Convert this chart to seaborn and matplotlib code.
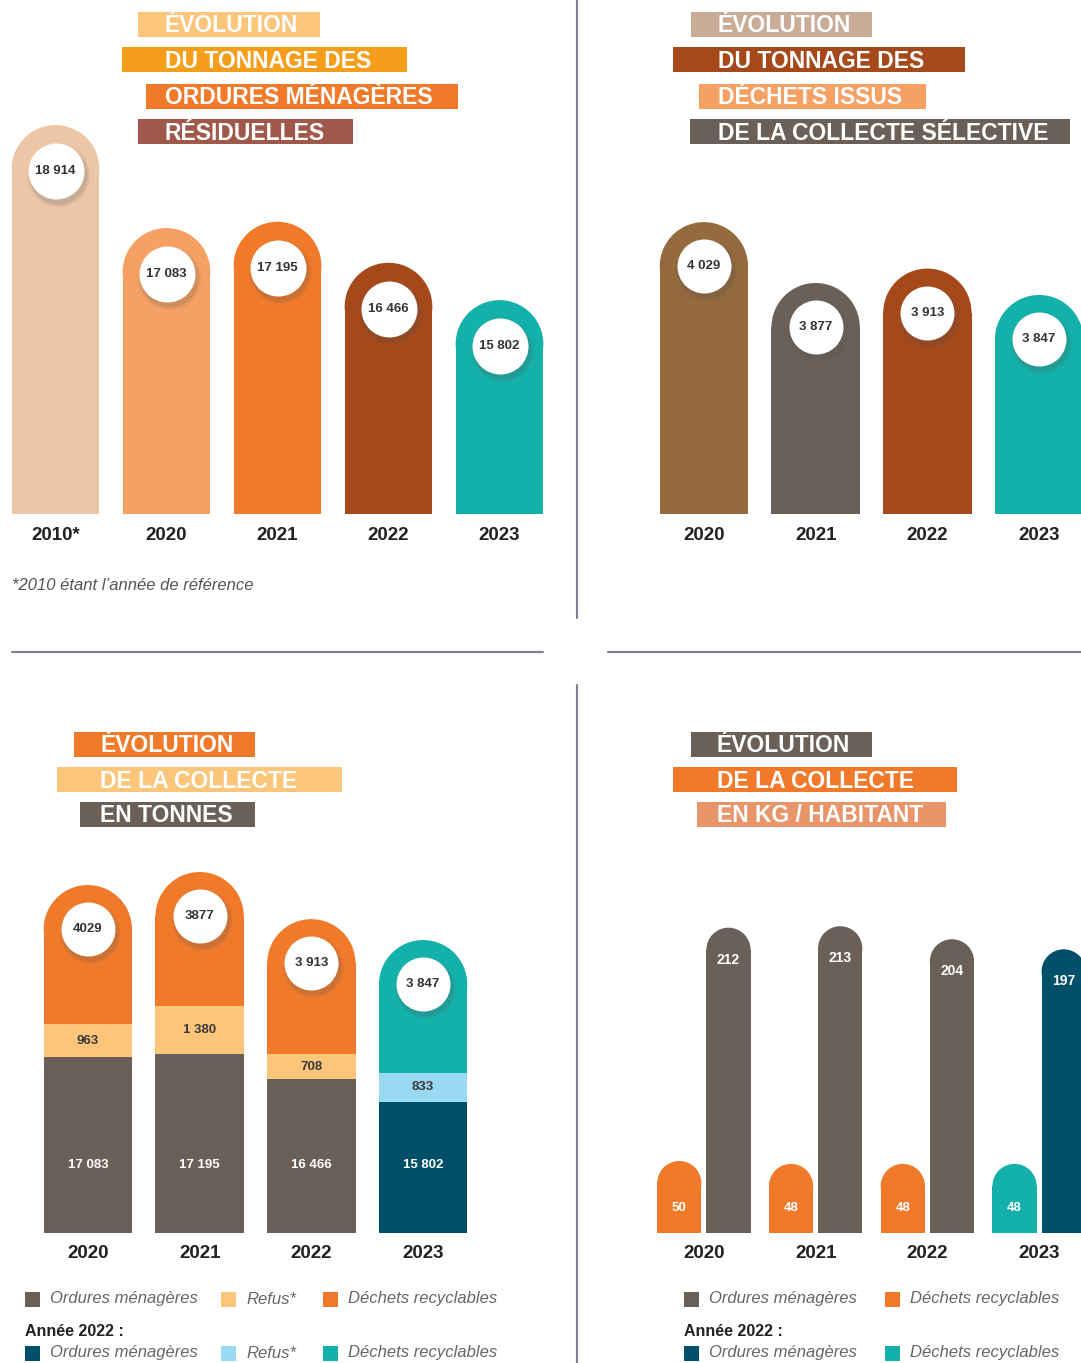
import numpy as np
import pandas as pd
import matplotlib
matplotlib.use("Agg")
import matplotlib.pyplot as plt
import seaborn as sns
from matplotlib.patches import Ellipse, Rectangle
from matplotlib.lines import Line2D
from matplotlib import transforms

# ---------------- data ----------------
omr_years = ["2010*", "2020", "2021", "2022", "2023"]
omr_tonnes = [18914, 17083, 17195, 16466, 15802]

cs_years = ["2020", "2021", "2022", "2023"]
cs_tonnes = [4029, 3877, 3913, 3847]

col_years = ["2020", "2021", "2022", "2023"]
col_om = [17083, 17195, 16466, 15802]
col_refus = [963, 1380, 708, 833]
col_recy = [4029, 3877, 3913, 3847]
col_recy_labels = ["4029", "3877", "3 913", "3 847"]

hab_years = ["2020", "2021", "2022", "2023"]
hab_om = [212, 213, 204, 197]
hab_recy = [50, 48, 48, 48]

# ---------------- colours ----------------
BROWN_GREY = "#6b6058"
ORANGE = "#f07a2a"
LIGHT_ORANGE = "#fbc57a"
AMBER = "#f59e1c"
TEAL = "#14b1ab"
NAVY = "#015069"
SKY = "#9ad9f2"
RUST = "#a5491a"
PEACH = "#edc6a8"
APRICOT = "#f6a063"
OCHRE = "#946a3e"
BRICK = "#a0584a"
TAN = "#c8ac98"
SALMON = "#e8956a"
RULE = "#7e8293"

sns.set_theme(style="white")
plt.rcParams["font.family"] = ["Liberation Sans", "DejaVu Sans"]

W, H = 1081, 1363
fig = plt.figure(figsize=(W / 100, H / 100), dpi=100)
fig.patch.set_facecolor("white")


def ax_px(left, top, width, height):
    ax = fig.add_axes([left / W, 1 - (top + height) / H, width / W, height / H])
    ax.set_facecolor("none")
    return ax


def fx(x):
    return x / W


def fy(y):
    return 1 - y / H


def round_cap(ax, patch):
    """Replace the flat top of a bar with a half-disc (round on screen)."""
    x0, w = patch.get_x(), patch.get_width()
    y0 = patch.get_y()
    top = y0 + patch.get_height()
    xr, yr = ax.get_xlim(), ax.get_ylim()
    px_x = ax.bbox.width / (xr[1] - xr[0])
    px_y = ax.bbox.height / (yr[1] - yr[0])
    r_y = (w * px_x / 2) / px_y
    patch.set_height(top - r_y - y0)
    cap = Ellipse((x0 + w / 2, top - r_y), w, 2 * r_y,
                  facecolor=patch.get_facecolor(), edgecolor="none",
                  zorder=patch.get_zorder())
    ax.add_patch(cap)


def badge(ax, x, y, text, drop_px, diam_px, fs=9.5):
    """White disc with a soft shadow, hanging drop_px below the bar top."""
    tr = transforms.offset_copy(ax.transData, fig=fig, x=0, y=-drop_px, units="dots")
    d_pt = diam_px * 0.72
    for grow, alpha in [(8, 0.05), (5, 0.08), (2, 0.12)]:
        sh = transforms.offset_copy(ax.transData, fig=fig, x=2, y=-drop_px - 4, units="dots")
        ax.scatter([x], [y], s=(d_pt + grow * 0.72) ** 2, color="#555555", alpha=alpha,
                   linewidths=0, transform=sh, zorder=4)
    ax.scatter([x], [y], s=d_pt ** 2, color="white", linewidths=0, transform=tr, zorder=5)
    ax.text(x, y, text, transform=tr, ha="center", va="center", fontsize=fs,
            fontweight="bold", color="#333333", zorder=6)


def style_axis(ax):
    sns.despine(ax=ax, left=True, bottom=True)
    ax.set_yticks([])
    ax.set_xlabel("")
    ax.set_ylabel("")
    ax.tick_params(axis="x", length=0, pad=9, labelsize=13.5, colors="#222222")
    for lbl in ax.get_xticklabels():
        lbl.set_fontweight("bold")


def fr(v):
    return f"{v:,}".replace(",", " ")


def tag(text, left, top, right, text_left, color, fs=16.5):
    fig.add_artist(Rectangle((fx(left), fy(top + 25)), (right - left) / W, 25 / H,
                             transform=fig.transFigure, facecolor=color,
                             edgecolor="none"))
    fig.text(fx(text_left), fy(top + 14), text, color="white", fontweight="bold",
             fontsize=fs, ha="left", va="center")


BAR_KW = dict(linewidth=0, errorbar=None, legend=False, saturation=1)

# ================= panel 1 : OMR =================
ax1 = ax_px(0, 100, 555, 414)
omr_df = pd.DataFrame({"year": omr_years, "t": omr_tonnes})
sns.barplot(data=omr_df, x="year", y="t", hue="year",
            palette=[PEACH, APRICOT, ORANGE, RUST, TEAL], width=0.79,
            ax=ax1, **BAR_KW)
ax1.set_xlim(-0.5, 4.5)
ax1.set_ylim(12000, 19360)
for p, v in zip(list(ax1.patches), omr_tonnes):
    round_cap(ax1, p)
    badge(ax1, p.get_x() + p.get_width() / 2, v, fr(v), 46, 56)
style_axis(ax1)

fig.text(fx(12), fy(585), "*2010 étant l’année de référence", fontsize=12,
         style="italic", color="#555555", ha="left", va="center")

tag("ÉVOLUTION", 138, 12, 320, 165, LIGHT_ORANGE)
tag("DU TONNAGE DES", 122, 47, 407, 165, AMBER)
tag("ORDURES MÉNAGÈRES", 146, 84, 458, 165, ORANGE)
tag("RÉSIDUELLES", 138, 119, 353, 165, BRICK)

# ================= panel 2 : collecte sélective =================
ax2 = ax_px(648, 100, 447, 414)
cs_df = pd.DataFrame({"year": cs_years, "t": cs_tonnes})
sns.barplot(data=cs_df, x="year", y="t", hue="year",
            palette=[OCHRE, BROWN_GREY, RUST, TEAL], width=0.79,
            ax=ax2, **BAR_KW)
ax2.set_xlim(-0.5, 3.5)
ax2.set_ylim(3300, 4334)
for p, v in zip(list(ax2.patches), cs_tonnes):
    round_cap(ax2, p)
    badge(ax2, p.get_x() + p.get_width() / 2, v, fr(v), 44, 54)
style_axis(ax2)

tag("ÉVOLUTION", 691, 12, 872, 718, TAN)
tag("DU TONNAGE DES", 673, 47, 965, 718, RUST)
tag("DÉCHETS ISSUS", 699, 84, 926, 718, APRICOT)
tag("DE LA COLLECTE SÉLECTIVE", 690, 119, 1070, 718, BROWN_GREY)

# ================= panel 3 : collecte en tonnes (stacked) =================
ax3 = ax_px(32, 860, 447, 373)
col_df = pd.DataFrame({"year": col_years, "om": col_om, "refus": col_refus,
                       "recy": col_recy})
col_df["om_refus"] = col_df["om"] + col_df["refus"]
col_df["total"] = col_df["om_refus"] + col_df["recy"]

sns.barplot(data=col_df, x="year", y="total", hue="year",
            palette=[ORANGE, ORANGE, ORANGE, TEAL], width=0.79,
            ax=ax3, **BAR_KW)
ax3.set_xlim(-0.5, 3.5)
ax3.set_ylim(12000, 22800)
for p in list(ax3.patches):
    round_cap(ax3, p)
sns.barplot(data=col_df, x="year", y="om_refus", hue="year",
            palette=[LIGHT_ORANGE, LIGHT_ORANGE, LIGHT_ORANGE, SKY], width=0.79,
            ax=ax3, **BAR_KW)
sns.barplot(data=col_df, x="year", y="om", hue="year",
            palette=[BROWN_GREY, BROWN_GREY, BROWN_GREY, NAVY], width=0.79,
            ax=ax3, **BAR_KW)
ax3.set_xlim(-0.5, 3.5)
ax3.set_ylim(12000, 22800)

blend3 = transforms.blended_transform_factory(ax3.transData, ax3.transAxes)
for i, row in col_df.iterrows():
    badge(ax3, i, row["total"], col_recy_labels[i], 44, 54)
    ax3.text(i, row["om"] + row["refus"] / 2, fr(row["refus"]), ha="center",
             va="center", fontsize=9.5, fontweight="bold", color="#3a3a3a", zorder=6)
    ax3.text(i, 68 / 373, fr(row["om"]), transform=blend3, ha="center",
             va="center", fontsize=9.5, fontweight="bold", color="white", zorder=6)
style_axis(ax3)

tag("ÉVOLUTION", 74, 732, 255, 100, ORANGE)
tag("DE LA COLLECTE", 57, 767, 342, 100, LIGHT_ORANGE)
tag("EN TONNES", 80, 802, 255, 100, BROWN_GREY)

# ================= panel 4 : kg / habitant =================
ax4 = ax_px(648, 860, 447, 373)
hab_df = pd.DataFrame({"year": hab_years * 2,
                       "kind": ["recy"] * len(hab_years) + ["om"] * len(hab_years),
                       "kg": hab_recy + hab_om})
sns.barplot(data=hab_df, x="year", y="kg", hue="kind", hue_order=["recy", "om"],
            palette={"recy": ORANGE, "om": BROWN_GREY}, width=0.88, gap=0.1,
            ax=ax4, **BAR_KW)
ax4.set_xlim(-0.5, 3.5)
ax4.set_ylim(0, 259)
recy_bars = list(ax4.containers[0])
om_bars = list(ax4.containers[1])
recy_bars[3].set_facecolor(TEAL)
om_bars[3].set_facecolor(NAVY)
blend4 = transforms.blended_transform_factory(ax4.transData, ax4.transAxes)
for p, v in zip(recy_bars, hab_recy):
    round_cap(ax4, p)
    ax4.text(p.get_x() + p.get_width() / 2, 25 / 373, str(v), transform=blend4,
             ha="center", va="center", fontsize=9.5, fontweight="bold",
             color="white", zorder=6)
for p, v in zip(om_bars, hab_om):
    round_cap(ax4, p)
    tr = transforms.offset_copy(ax4.transData, fig=fig, x=0, y=-32, units="dots")
    ax4.text(p.get_x() + p.get_width() / 2, v, str(v), transform=tr,
             ha="center", va="center", fontsize=10, fontweight="bold",
             color="white", zorder=6)
style_axis(ax4)

tag("ÉVOLUTION", 691, 732, 872, 717, BROWN_GREY)
tag("DE LA COLLECTE", 673, 767, 957, 717, ORANGE)
tag("EN KG / HABITANT", 697, 802, 946, 717, SALMON)

# ================= legends =================
def swatch(x, y, color, label):
    fig.add_artist(Rectangle((fx(x), fy(y + 8)), 15 / W, 15 / H,
                             transform=fig.transFigure, facecolor=color,
                             edgecolor="none"))
    fig.text(fx(x + 25), fy(y), label, fontsize=12, style="italic",
             color="#666666", ha="left", va="center")


swatch(25, 1299, BROWN_GREY, "Ordures ménagères")
swatch(221, 1299, LIGHT_ORANGE, "Refus*")
swatch(323, 1299, ORANGE, "Déchets recyclables")
fig.text(fx(25), fy(1331), "Année 2022 :", fontsize=11.5, fontweight="bold",
         color="#222222", ha="left", va="center")
swatch(25, 1353, NAVY, "Ordures ménagères")
swatch(221, 1353, SKY, "Refus*")
swatch(323, 1353, TEAL, "Déchets recyclables")

swatch(684, 1299, BROWN_GREY, "Ordures ménagères")
swatch(885, 1299, ORANGE, "Déchets recyclables")
fig.text(fx(684), fy(1331), "Année 2022 :", fontsize=11.5, fontweight="bold",
         color="#222222", ha="left", va="center")
swatch(684, 1353, NAVY, "Ordures ménagères")
swatch(885, 1353, TEAL, "Déchets recyclables")

# ================= separators =================
for (x0, y0, x1, y1) in [(577, 0, 577, 618), (577, 685, 577, 1363),
                         (12, 652, 543, 652), (608, 652, 1081, 652)]:
    fig.add_artist(Line2D([fx(x0), fx(x1)], [fy(y0), fy(y1)],
                          transform=fig.transFigure, color=RULE, linewidth=1.6))

fig.savefig("out.png", dpi=100, facecolor="white")
